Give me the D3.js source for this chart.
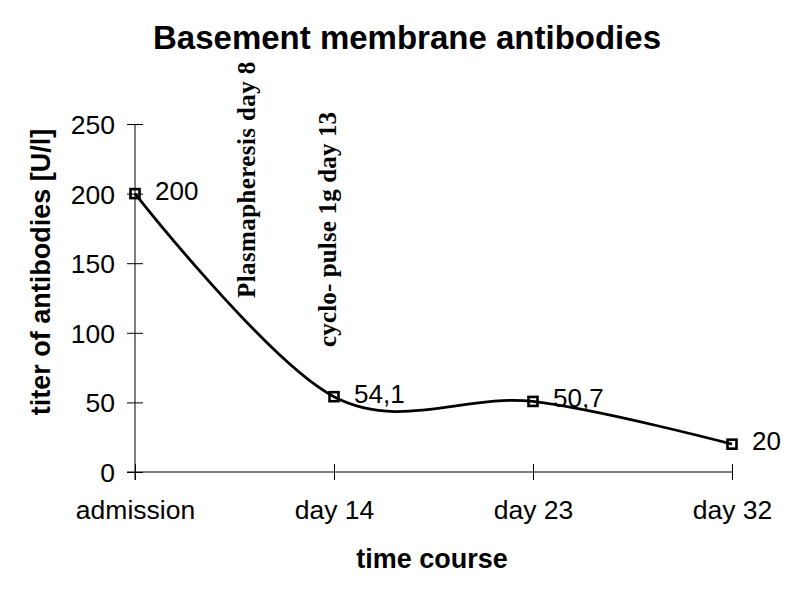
<!DOCTYPE html>
<html><head><meta charset="utf-8">
<script src="https://cdn.jsdelivr.net/npm/d3@7"></script>
<style>html,body{margin:0;padding:0;background:#fff}svg{display:block}</style>
</head><body>
<script>
const categories = ["admission", "day 14", "day 23", "day 32"];
const values = [200, 54.1, 50.7, 20];
const yTicks = [0, 50, 100, 150, 200, 250];
const title = "Basement membrane antibodies";
const xTitle = "time course";
const yTitle = "titer of antibodies [U/l]";
const annotations = ["Plasmapheresis day 8", "cyclo- pulse 1g day 13"];

const W = 809, H = 598;
const svg = d3.select("body").append("svg").attr("width", W).attr("height", H);

const x = d3.scalePoint().domain(categories).range([135, 732]);
const y = d3.scaleLinear().domain([0, 250]).range([472, 124]);
const fmt = d3.formatLocale({decimal: ",", thousands: ".", grouping: [3], currency: ["", ""]}).format("~g");

const sans = "'Liberation Sans', Arial, sans-serif";
const serif = "'Liberation Serif', 'Times New Roman', serif";

// title
svg.append("text").attr("x", 407).attr("y", 49).attr("text-anchor", "middle")
  .attr("font-family", sans).attr("font-weight", "bold").attr("font-size", 33).text(title);

// y axis
const yAxis = svg.append("g").attr("transform", "translate(135,0)")
  .call(d3.axisLeft(y).tickValues(yTicks).tickSize(8).tickSizeOuter(0).tickPadding(12));
yAxis.select(".domain").remove();
yAxis.selectAll(".tick line").attr("x1", 8).attr("x2", -8).attr("stroke", "#000");
yAxis.selectAll(".tick text").attr("font-family", sans).attr("font-size", 26.5).attr("fill", "#000").attr("dy", "0.36em");
svg.append("line").attr("x1", 135).attr("x2", 135).attr("y1", y(250)).attr("y2", y(0) + 8).attr("stroke", "#000");

// x axis
const xAxis = svg.append("g").attr("transform", `translate(0,${y(0)})`)
  .call(d3.axisBottom(x).tickSize(8).tickSizeOuter(0).tickPadding(0));
xAxis.select(".domain").remove();
xAxis.selectAll(".tick line").attr("y1", -8).attr("y2", 8).attr("stroke", "#000");
xAxis.selectAll(".tick text").attr("font-family", sans).attr("font-size", 26.5).attr("fill", "#000")
  .attr("dy", null).attr("y", 47);
svg.append("line").attr("x1", 127).attr("x2", 732).attr("y1", y(0)).attr("y2", y(0)).attr("stroke", "#000");

// axis titles
svg.append("text").attr("x", 432).attr("y", 568).attr("text-anchor", "middle")
  .attr("font-family", sans).attr("font-weight", "bold").attr("font-size", 27).text(xTitle);
svg.append("text").attr("transform", "translate(50,272) rotate(-90)").attr("text-anchor", "middle")
  .attr("font-family", sans).attr("font-weight", "bold").attr("font-size", 27).text(yTitle);

// annotations (rotated)
const annPos = [[255, 298], [336, 347]];
annotations.forEach((t, i) => {
  svg.append("text").attr("transform", `translate(${annPos[i][0]},${annPos[i][1]}) rotate(-90)`)
    .attr("font-family", serif).attr("font-weight", "bold").attr("font-size", 25)
    .attr("letter-spacing", i === 0 ? 0.4 : 0.15).text(t);
});

// line
const data = categories.map((c, i) => ({c, v: values[i]}));
const line = d3.line().x(d => x(d.c)).y(d => y(d.v)).curve(d3.curveCardinal.tension(0));
svg.append("path").datum(data).attr("d", line).attr("fill", "none").attr("stroke", "#000").attr("stroke-width", 2.8);

// markers
svg.selectAll("rect.m").data(data).enter().append("rect").attr("class", "m")
  .attr("x", d => x(d.c) - 4.5).attr("y", d => y(d.v) - 4.5).attr("width", 9).attr("height", 9)
  .attr("fill", "none").attr("stroke", "#000").attr("stroke-width", 2.6);

// data labels
svg.selectAll("text.lbl").data(data).enter().append("text").attr("class", "lbl")
  .attr("x", d => x(d.c) + 20).attr("y", d => y(d.v) + 6)
  .attr("font-family", sans).attr("font-size", 26).attr("fill", "#000")
  .text(d => fmt(d.v));
</script>
</body></html>
